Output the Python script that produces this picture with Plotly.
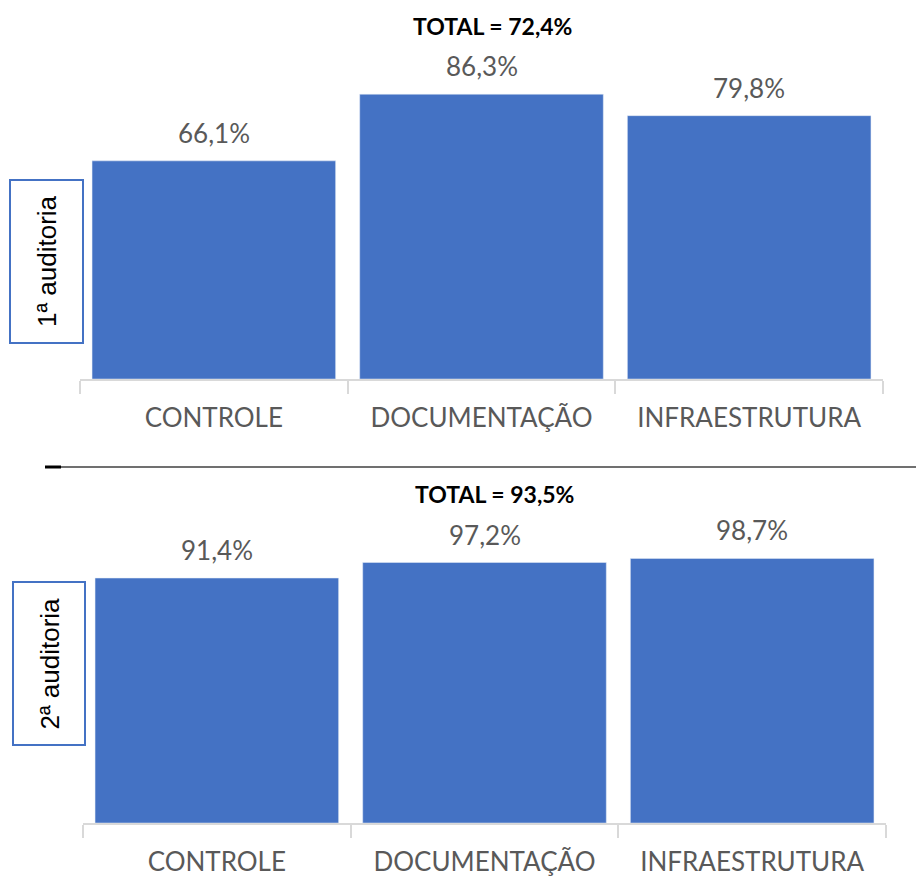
import plotly.graph_objects as go

categories = ["CONTROLE", "DOCUMENTAÇÃO", "INFRAESTRUTURA"]
values_1 = [66.1, 86.3, 79.8]
values_2 = [91.4, 97.2, 98.7]
total_1 = "TOTAL = 72,4%"
total_2 = "TOTAL = 93,5%"
panel_labels = ["1ª auditoria", "2ª auditoria"]

W, H = 916, 877
def px(x): return x / W
def py(y): return 1 - y / H

BAR = "#4472C4"
GRAY = "#595959"
AXC = "#d9d9d9"
FONT = "Lato, sans-serif"

def fmt(v):
    return f"{v:.1f}".replace(".", ",") + "%"

fig = go.Figure()
fig.add_trace(go.Bar(x=categories, y=values_1, marker_color=BAR, xaxis="x", yaxis="y",
                     showlegend=False, hoverinfo="skip"))
fig.add_trace(go.Bar(x=categories, y=values_2, marker_color=BAR, xaxis="x2", yaxis="y2",
                     showlegend=False, hoverinfo="skip"))

xa = dict(showline=True, linecolor=AXC, linewidth=1.5, ticks="outside", tickson="boundaries",
          ticklen=13, tickcolor=AXC, tickwidth=1.5, showgrid=False, zeroline=False,
          tickfont=dict(family=FONT, size=26, color=GRAY), ticklabelstandoff=15, fixedrange=True)
ya = dict(visible=False, range=[0, 100], showgrid=False, zeroline=False, fixedrange=True)

fig.update_layout(
    width=W, height=H, margin=dict(l=0, r=0, t=0, b=0),
    paper_bgcolor="white", plot_bgcolor="white", bargap=0.09,
    xaxis=dict(xa, domain=[px(80), px(883)], anchor="y"),
    yaxis=dict(ya, domain=[py(379), py(49)], anchor="x"),
    xaxis2=dict(xa, domain=[px(83), px(886)], anchor="y2"),
    yaxis2=dict(ya, domain=[py(823), py(555)], anchor="x2", range=[0, 100]),
)

anns = []
for xr, yr, vals in (("x", "y", values_1), ("x2", "y2", values_2)):
    for c, v in zip(categories, vals):
        anns.append(dict(x=c, y=v, xref=xr, yref=yr, text=fmt(v), showarrow=False,
                         yanchor="middle", yshift=28,
                         font=dict(family=FONT, size=26, color=GRAY)))

anns.append(dict(x=px(492), y=py(26), xref="paper", yref="paper", text=f"<b>{total_1}</b>",
                 showarrow=False, xanchor="center", yanchor="middle",
                 font=dict(family=FONT, size=23, color="black")))
anns.append(dict(x=px(494), y=py(494), xref="paper", yref="paper", text=f"<b>{total_2}</b>",
                 showarrow=False, xanchor="center", yanchor="middle",
                 font=dict(family=FONT, size=23, color="black")))

boxes = [(10, 180, 83, 343), (13, 582, 85, 745)]
shapes = []
for (x0, y0, x1, y1), lab in zip(boxes, panel_labels):
    shapes.append(dict(type="rect", xref="paper", yref="paper", x0=px(x0), x1=px(x1),
                       y0=py(y1), y1=py(y0), line=dict(color=BAR, width=2), fillcolor="white"))
    anns.append(dict(x=px((x0 + x1) / 2), y=py((y0 + y1) / 2), xref="paper", yref="paper",
                     text=lab, textangle=-90, showarrow=False, xanchor="center", yanchor="middle",
                     font=dict(family="Liberation Sans, Arial, sans-serif", size=26, color="black")))

shapes.append(dict(type="line", xref="paper", yref="paper", x0=px(60), x1=px(916),
                   y0=py(467), y1=py(467), line=dict(color="#404040", width=1.5)))
shapes.append(dict(type="line", xref="paper", yref="paper", x0=px(45), x1=px(61),
                   y0=py(467), y1=py(467), line=dict(color="black", width=3)))

fig.update_layout(annotations=anns, shapes=shapes)
fig.write_html("out.html")
